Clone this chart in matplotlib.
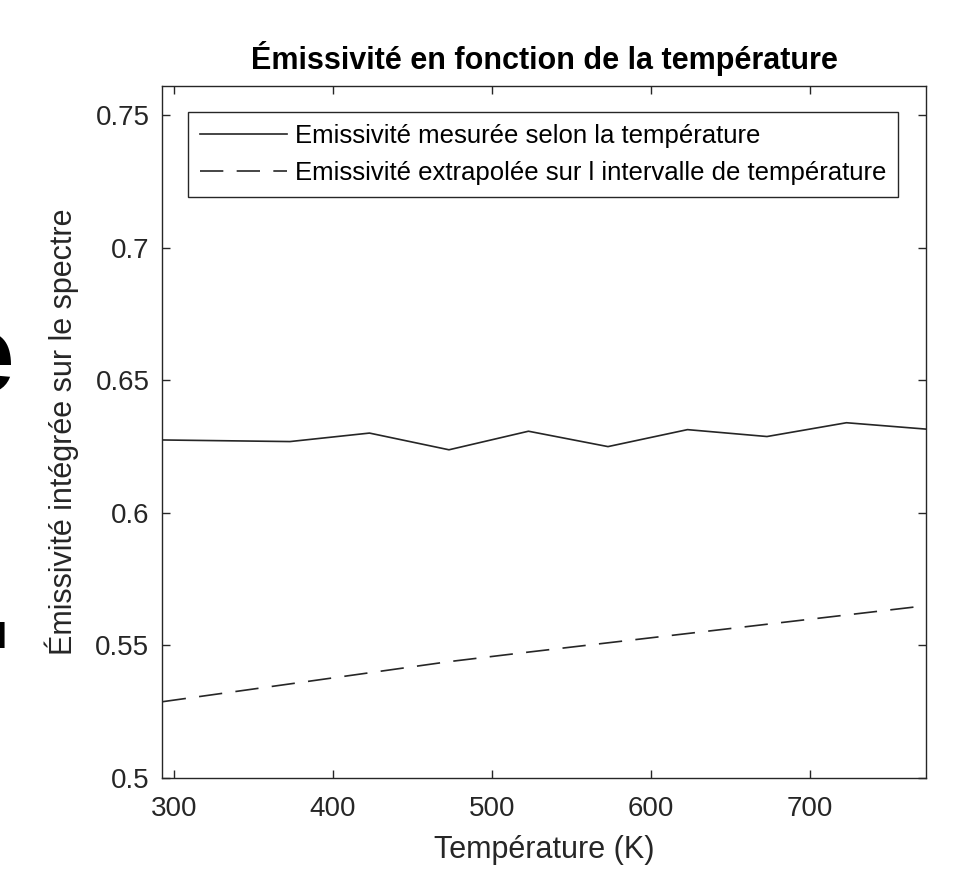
import matplotlib
matplotlib.use('Agg')
import matplotlib.pyplot as plt

plt.rcParams['font.family'] = ['Liberation Sans', 'DejaVu Sans']

# temperatures (K) and integrated emissivity
temps = [293, 373, 423, 473, 523, 573, 623, 673, 723, 773]
emis_mesuree = [0.6275, 0.6269, 0.6301, 0.6238, 0.6308, 0.6250, 0.6314, 0.6288, 0.6340, 0.6316]
emis_extrap = [0.5288, 0.5355, 0.5397, 0.5439, 0.5475, 0.5510, 0.5545, 0.5580, 0.5615, 0.5650]

xticks = [300, 400, 500, 600, 700]
yticks = [0.5, 0.55, 0.6, 0.65, 0.7, 0.75]
ytick_labels = ['0.5', '0.55', '0.6', '0.65', '0.7', '0.75']

dark = '#262626'

fig = plt.figure(figsize=(9.55, 8.74), dpi=100)
ax = fig.add_axes([0.1696, 0.1098, 0.80, 0.7918])

ax.plot(temps, emis_mesuree, color=dark, lw=1.2, label='Emissivité mesurée selon la température')
ax.plot(temps, emis_extrap, color=dark, lw=1.2, dashes=(14, 8),
        label='Emissivité extrapolée sur l intervalle de température')

ax.set_xlim(temps[0] - 0.5, temps[-1])
ax.set_ylim(0.5, 0.761)
ax.set_xticks(xticks)
ax.set_yticks(yticks)
ax.set_yticklabels(ytick_labels)

ax.tick_params(direction='in', length=5.8, width=1.0, colors=dark, labelsize=20,
               top=True, right=True)
ax.tick_params(axis='y', pad=9)
ax.tick_params(axis='x', pad=13)
for s in ax.spines.values():
    s.set_color(dark)
    s.set_linewidth(1.0)

ax.set_xlabel('Température (K)', fontsize=22, color=dark, labelpad=9)
ax.set_ylabel('Émissivité intégrée sur le spectre', fontsize=22, color=dark, labelpad=12)
ax.set_title('Émissivité en fonction de la température', fontsize=22, fontweight='bold',
             pad=12)

leg = ax.legend(loc='upper left', bbox_to_anchor=(0.034, 0.9624), borderaxespad=0,
                fontsize=18.5, handlelength=3.4, handletextpad=0.3, borderpad=0.45,
                labelspacing=0.52, fancybox=False, framealpha=1)
leg.get_frame().set_edgecolor(dark)
leg.get_frame().set_linewidth(1.0)
for t in leg.get_texts():
    t.set_color('black')

# remnants of a neighbouring panel cut off at the left edge
fig.text(-0.05, 0.585, 'e', fontsize=80, fontweight='bold', va='center', ha='left')
fig.text(-0.004, 0.27, 'I', fontsize=26, fontweight='bold', va='center', ha='left')

fig.savefig('out.png', dpi=100)
